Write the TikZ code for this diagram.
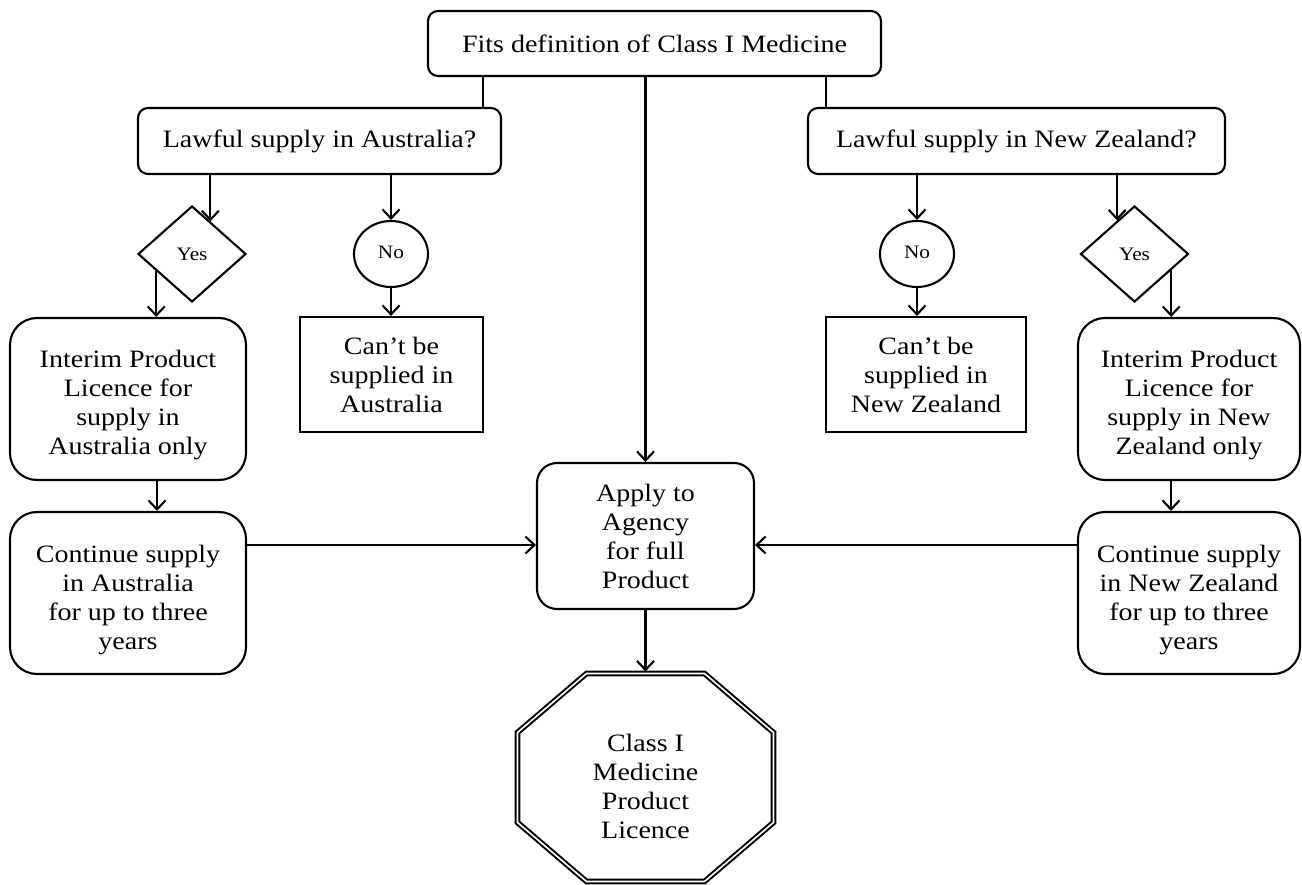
\documentclass[tikz,border=0pt]{standalone}
\usepackage{fontspec}
\setmainfont{Liberation Serif}[FakeStretch=1.12]
\usetikzlibrary{arrows.meta,calc,shapes.geometric}
\newcommand\diagfont{\fontsize{25}{29}\selectfont}
\newcommand\smallfnt{\fontsize{19}{22}\selectfont}
\newcommand\lowr[1]{\rule{0pt}{#1}}
\begin{document}
\begin{tikzpicture}[x=1pt,y=-1pt,line width=2.1pt,
  box/.style={draw,rounded corners=10pt,align=center,inner sep=0pt,font=\diagfont},
  bigbox/.style={draw,rounded corners=27pt,align=center,inner sep=0pt,font=\diagfont},
  midbox/.style={draw,rounded corners=20pt,align=center,inner sep=0pt,font=\diagfont},
  sq/.style={draw,align=center,inner sep=0pt,font=\diagfont},
  dia/.style={draw,diamond,minimum width=108pt,minimum height=96pt,inner sep=0pt,font=\smallfnt},
  circ/.style={draw,ellipse,minimum width=74pt,minimum height=66pt,inner sep=0pt,font=\smallfnt},
  arr/.style={-{Straight Barb[length=9pt,width=17pt]}},
  octline/.style={double,line width=2pt,double distance=1.6pt}]
\useasboundingbox (0,0) rectangle (1302,885);
\fill[white] (0,0) rectangle (1302,885);
% top
\node[box,minimum width=453pt,minimum height=65pt] (top) at (654.5,43.5) {Fits definition of Class I Medicine};
\node[box,minimum width=363pt,minimum height=66pt] (au) at (319.5,141) {Lawful supply in Australia?};
\node[box,minimum width=417pt,minimum height=66pt] (nz) at (1016.5,141) {Lawful supply in New Zealand?};
% Australia side
\node[dia] (yesau) at (192,254) {\raisebox{-3pt}{Yes}};
\node[circ] (noau) at (391,254) {\raisebox{4pt}{No}};
\node[sq,minimum width=183pt,minimum height=115pt] (cantau) at (391.5,374.5) {Can’t be\\supplied in\\Australia};
\node[bigbox,minimum width=236pt,minimum height=162pt] (intau) at (128,399) {\lowr{29pt}Interim Product\\Licence for\\supply in\\Australia only};
\node[bigbox,minimum width=236pt,minimum height=162pt] (contau) at (128,593) {\lowr{31pt}Continue supply\\in Australia\\for up to three\\years};
% centre
\node[midbox,minimum width=217pt,minimum height=146pt] (apply) at (645.5,536) {Apply to\\Agency\\for full\\Product};
\node[minimum width=257pt,minimum height=210pt,inner sep=0pt,align=center,font=\diagfont] (oct) at (645.5,777.5) {\lowr{35pt}Class I\\Medicine\\Product\\Licence};
\draw[octline,shift={(oct.center)}] (-59,-104) -- (59,-104) -- (128,-45) -- (128,45) -- (59,104) -- (-59,104) -- (-128,45) -- (-128,-45) -- cycle;
% New Zealand side
\node[circ] (nonz) at (917,254) {\raisebox{4pt}{No}};
\node[dia] (yesnz) at (1134.5,254) {\raisebox{-3pt}{Yes}};
\node[sq,minimum width=200pt,minimum height=115pt] (cantnz) at (926,374.5) {Can’t be\\supplied in\\New Zealand};
\node[bigbox,minimum width=222pt,minimum height=162pt] (intnz) at (1189,399) {\lowr{29pt}Interim Product\\Licence for\\supply in New\\Zealand only};
\node[bigbox,minimum width=222pt,minimum height=162pt] (contnz) at (1189,593) {\lowr{31pt}Continue supply\\in New Zealand\\for up to three\\years};
% helper coordinates
\coordinate (xl) at (483,0);
\coordinate (xr) at (826,0);
\coordinate (yh) at (0,545);
\coordinate (xia) at (157,0);
\coordinate (xin) at (1171,0);
\coordinate (ya) at ($(yesau.north)!0.333!(yesau.east)$);
\coordinate (yb) at ($(yesau.west)!0.35!(yesau.south)$);
\coordinate (za) at ($(yesnz.north)!0.315!(yesnz.west)$);
\coordinate (zb) at ($(yesnz.east)!0.333!(yesnz.south)$);
% connectors
\draw (top.south -| xl) -- (au.north -| xl);
\draw (top.south -| xr) -- (nz.north -| xr);
\draw[arr] (top.south -| apply.north) -- (apply.north);
\draw[arr] (au.south -| ya) -- (ya);
\draw[arr] (yb) -- (intau.north -| yb);
\draw[arr] (au.south -| noau.north) -- (noau.north);
\draw[arr] (noau.south) -- (cantau.north -| noau.south);
\draw[arr] (intau.south -| xia) -- (contau.north -| xia);
\draw[arr] (contau.east |- yh) -- (apply.west |- yh);
\draw[arr] (apply.south) -- (oct.north);
\draw[arr] (nz.south -| za) -- (za);
\draw[arr] (zb) -- (intnz.north -| zb);
\draw[arr] (nz.south -| nonz.north) -- (nonz.north);
\draw[arr] (nonz.south) -- (cantnz.north -| nonz.south);
\draw[arr] (intnz.south -| xin) -- (contnz.north -| xin);
\draw[arr] (contnz.west |- yh) -- (apply.east |- yh);
\end{tikzpicture}
\end{document}
